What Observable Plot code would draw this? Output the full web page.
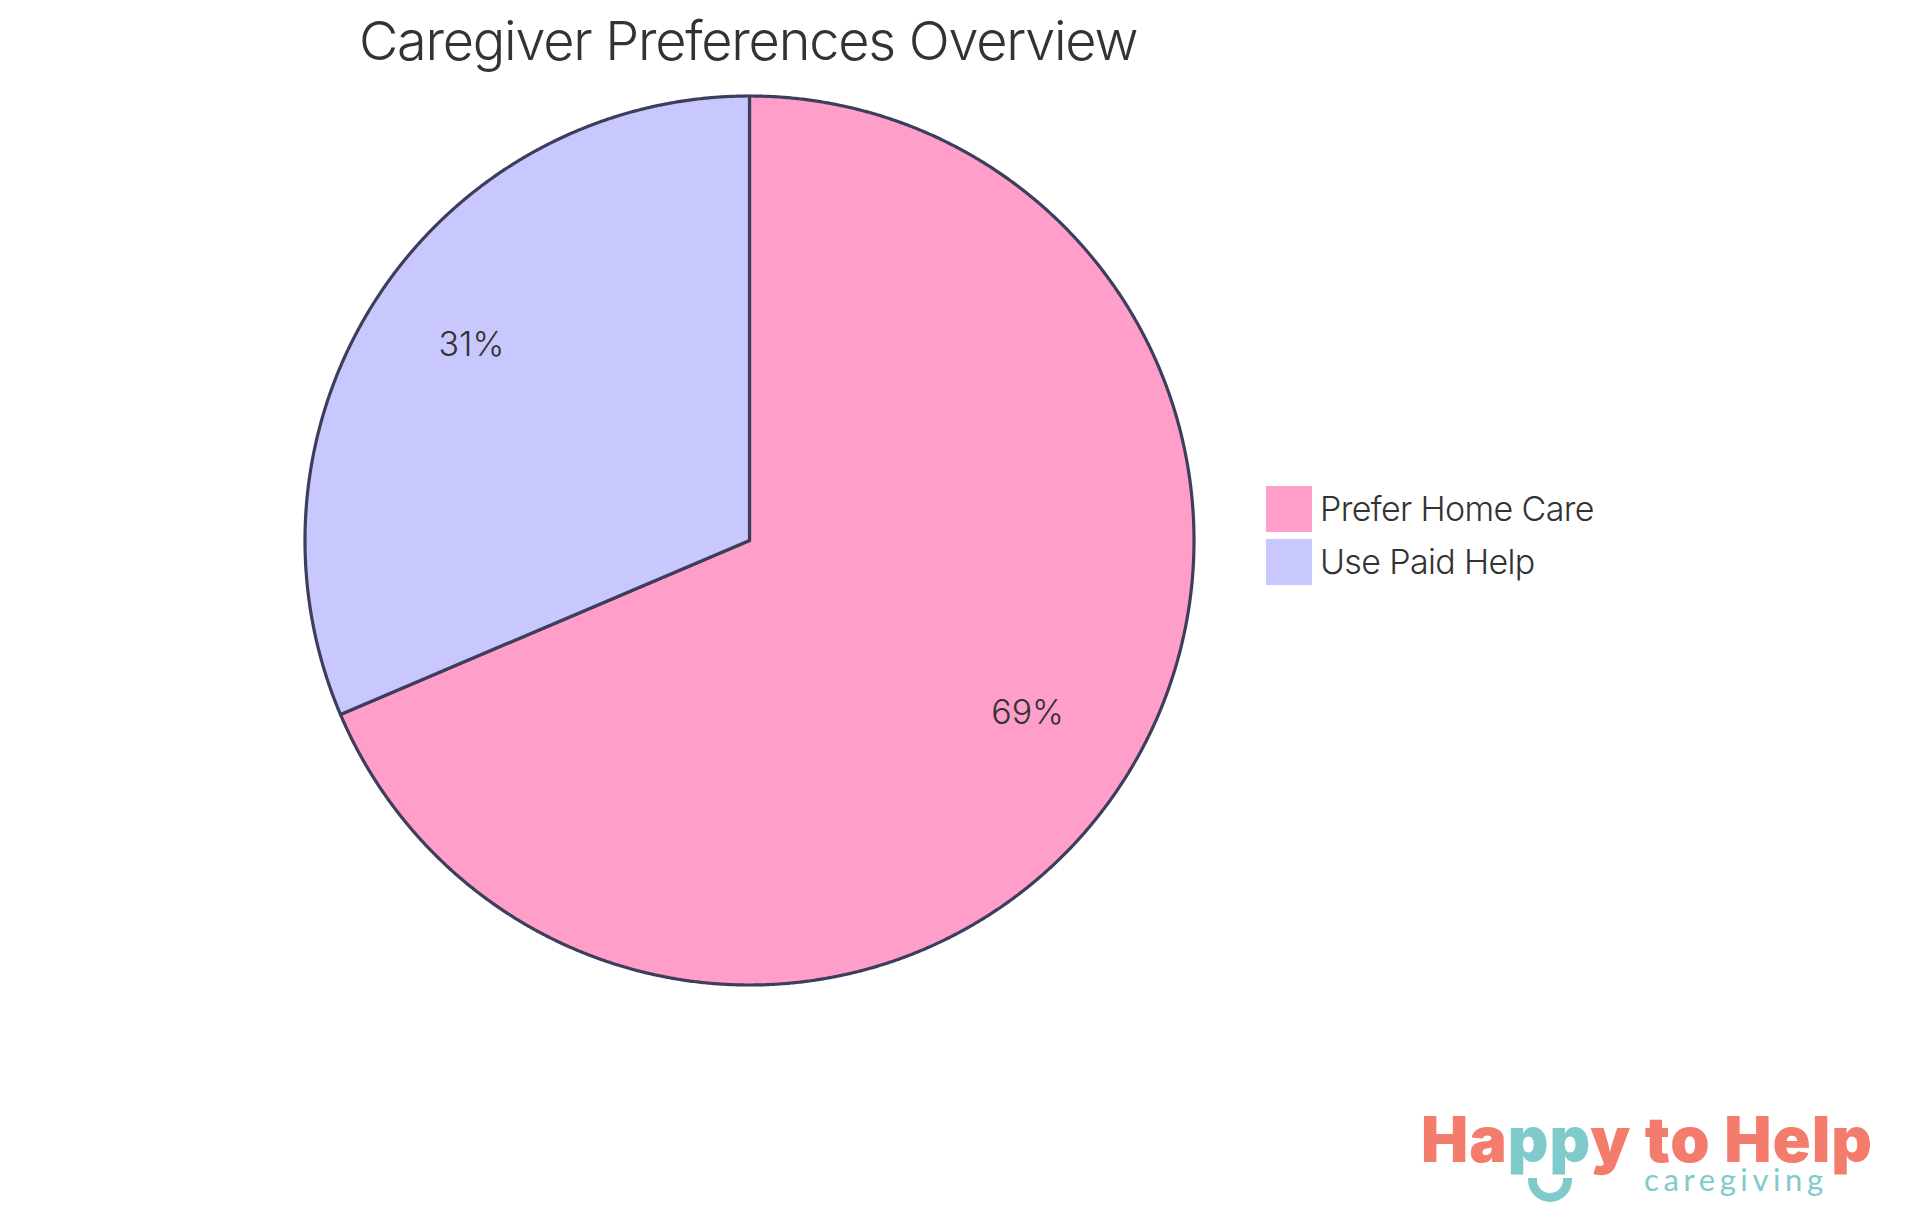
<!DOCTYPE html>
<html>
<head>
<meta charset="utf-8">
<script src="https://cdn.jsdelivr.net/npm/d3@7"></script>
<script src="https://cdn.jsdelivr.net/npm/@observablehq/plot@0.6"></script>
<style>
html,body{margin:0;padding:0;background:#fff;}
#page{position:relative;width:1920px;height:1215px;overflow:hidden;font-family:Inter,sans-serif;font-weight:300;color:#333;}
#page svg{display:block;}
.abs{position:absolute;white-space:nowrap;line-height:1;}
.swatch{position:absolute;width:46px;height:46px;}
</style>
</head>
<body>
<div id="page"></div>
<script>
const titleText = "Caregiver Preferences Overview";
const categories = ["Prefer Home Care", "Use Paid Help"];
const shares = [68.6, 31.4];
const sliceLabels = ["69%", "31%"];
const sliceColors = ["#ff9fc9", "#c8c8ff"];
const outline = "#3d3d5c";

const arcs = d3.pie().sort(null).value(d => d)(shares);
const polar = (a, r) => [r * Math.sin(a), -r * Math.cos(a)];

// each slice is traced as a closed outline from its share of the circle
const outlineRows = arcs.flatMap((arc, i) => {
  const n = Math.max(2, Math.ceil((arc.endAngle - arc.startAngle) / 0.004));
  const pts = [[0, 0]];
  for (let k = 0; k <= n; k++) pts.push(polar(arc.startAngle + (arc.endAngle - arc.startAngle) * k / n, 1));
  pts.push([0, 0]);
  return pts.map(([x, y]) => ({x, y, category: categories[i]}));
});
const labelRows = arcs.map((arc, i) => {
  const [x, y] = polar((arc.startAngle + arc.endAngle) / 2, 0.75);
  return {x, y, label: sliceLabels[i]};
});

const plot = Plot.plot({
  width: 1920,
  height: 1215,
  marginLeft: 304.5,
  marginRight: 726.5,
  marginTop: 95.5,
  marginBottom: 230.5,
  x: {domain: [-1, 1], axis: null},
  y: {domain: [-1, 1], reverse: true, axis: null},
  color: {domain: categories, range: sliceColors},
  style: {background: "#fff"},
  marks: [
    Plot.line(outlineRows, {x: "x", y: "y", z: "category", fill: "category", stroke: outline, strokeWidth: 3.2, curve: "linear-closed", strokeLinejoin: "round"}),
    Plot.text(labelRows, {x: "x", y: "y", dy: -11, text: "label", fontSize: 34, fontFamily: "Inter", fontWeight: 300, fill: "#333"})
  ]
});
const page = document.getElementById("page");
page.appendChild(plot);

const add = (cls, css, html) => {
  const el = document.createElement("div");
  el.className = cls;
  el.style.cssText = css;
  el.innerHTML = html;
  page.appendChild(el);
  return el;
};
add("abs", "left:359px;top:14px;font-size:54px;letter-spacing:-1.25px;", titleText);
categories.forEach((c, i) => {
  const top = 486 + i * 53;
  add("swatch", `left:1266px;top:${top}px;background:${sliceColors[i]};`, "");
  add("abs", `left:1320px;top:${top + 6}px;font-size:34px;letter-spacing:-0.65px;`, c);
});

// logo
const coral = "#f47c6c", teal = "#7fcbcb";
add("abs", `left:1421px;top:1114px;line-height:0.8;font-family:Inter,sans-serif;font-weight:900;font-size:63px;letter-spacing:1px;color:${coral};`,
  `Ha<span style="color:${teal}">pp</span>y to Help`);
add("abs", `left:1644px;top:1167px;line-height:0.8;font-family:Lato,sans-serif;font-weight:400;font-size:31px;letter-spacing:4.6px;color:${teal};`, "caregiving");
add("abs", `left:1528px;top:1178px;width:44px;height:24px;box-sizing:border-box;border:9px solid ${teal};border-top:none;border-radius:0 0 22px 22px;`, "");
</script>
</body>
</html>
